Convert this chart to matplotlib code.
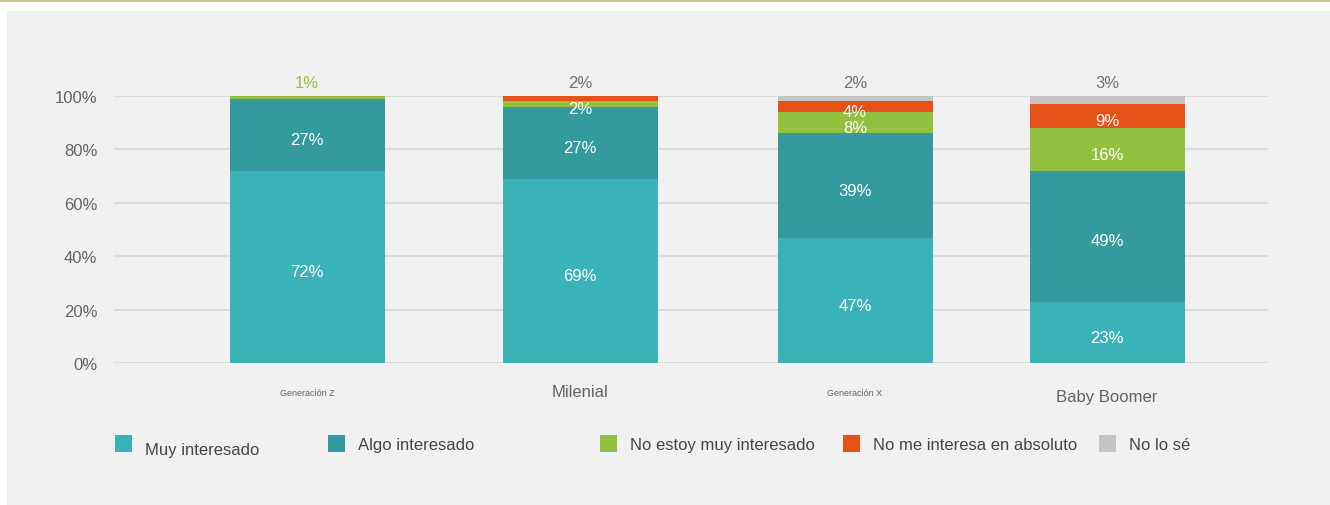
import matplotlib.pyplot as plt
from matplotlib.patches import Rectangle
from matplotlib.lines import Line2D

plt.rcParams["font.family"] = ["Liberation Sans", "DejaVu Sans"]

# survey results, % per generation
generations = ["Generación Z", "Milenial", "Generación X", "Baby Boomer"]
categories = [
    "Muy interesado",
    "Algo interesado",
    "No estoy muy interesado",
    "No me interesa en absoluto",
    "No lo sé",
]
muy_interesado = [72, 69, 47, 23]
algo_interesado = [27, 27, 39, 49]
no_muy_interesado = [1, 2, 8, 16]
nada_interesado = [0, 2, 4, 9]
no_lo_se = [0, 0, 2, 3]
y_ticks = [0, 20, 40, 60, 80, 100]

series = [muy_interesado, algo_interesado, no_muy_interesado, nada_interesado, no_lo_se]
colors = ["#39b3b8", "#359a9e", "#92c13f", "#e65118", "#c4c4c4"]
top_label_colors = ["#8cc440", "#707070", "#707070", "#707070"]

W, H = 1330, 506
fig = plt.figure(figsize=(W / 100, H / 100), dpi=100)
fig.patch.set_facecolor("white")


def px(x, y):
    # pixel coords (origin top-left) -> figure fraction
    return x / W, 1 - y / H


# background panel and thin rule on top
x0, y0 = px(7, 506)
fig.add_artist(Rectangle((x0, y0), 1 - x0, (506 - 12) / H,
                         transform=fig.transFigure, facecolor="#f1f1f1",
                         edgecolor="none", zorder=0))
fig.add_artist(Line2D([0, 1], [1 - 2 / H] * 2, transform=fig.transFigure,
                      color="#c9c499", lw=1.5, zorder=1))

left, bottom = px(114, 364)
ax = fig.add_axes([left, bottom, (1268 - 114) / W, (364 - 97) / H])
ax.set_facecolor("none")
ax.set_xlim(114, 1268)
ax.set_ylim(0, 100)

centers = [307, 580, 855, 1107]
bar_w = 155

bottoms = [0] * len(generations)
for vals, col in zip(series, colors):
    ax.bar(centers, vals, width=bar_w, bottom=bottoms, color=col, zorder=3)
    bottoms = [b + v for b, v in zip(bottoms, vals)]

# value labels: top segment above the bar, the rest inside (sitting a bit low)
for i, xc in enumerate(centers):
    vals = [s[i] for s in series]
    last = max(k for k, v in enumerate(vals) if v > 0)
    base = 0
    for k, v in enumerate(vals):
        if v > 0 and k != last:
            ax.text(xc, base + v / 2 - 1.8, f"{v}%", ha="center", va="center",
                    color="white", fontsize=12, zorder=4)
        base += v
    ax.text(xc, 105.0, f"{vals[last]}%", ha="center", va="center",
            color=top_label_colors[i], fontsize=12, clip_on=False)

ax.set_yticks(y_ticks)
ax.set_yticklabels([f"{t}%" for t in y_ticks])
ax.tick_params(axis="y", length=0, pad=12, labelsize=12, labelcolor="#636363")
ax.set_xticks([])
ax.yaxis.grid(True, color="#d9d9d9", lw=1.2, zorder=1)
for sp in ax.spines.values():
    sp.set_visible(False)

# generation labels (sizes differ per label)
label_sizes = [6.5, 12, 6.5, 12]
label_y = [-0.112, -0.107, -0.112, -0.124]
for xc, name, fs, ly in zip(centers, generations, label_sizes, label_y):
    ax.text(xc, ly, name, transform=ax.get_xaxis_transform(), ha="center",
            va="center", fontsize=fs, color="#636363")

# legend
sq_x = [115, 328, 600, 843, 1099]
txt_y = [451, 446, 446, 446, 446]
for sx, ty, col, name in zip(sq_x, txt_y, colors, categories):
    rx, ry = px(sx, 453)
    fig.add_artist(Rectangle((rx, ry), 17 / W, 17 / H, transform=fig.transFigure,
                             facecolor=col, edgecolor="none"))
    tx, tyf = px(sx + 30, ty)
    fig.text(tx, tyf, name, ha="left", va="center", fontsize=12, color="#454545")

fig.savefig("out.png", dpi=100)
